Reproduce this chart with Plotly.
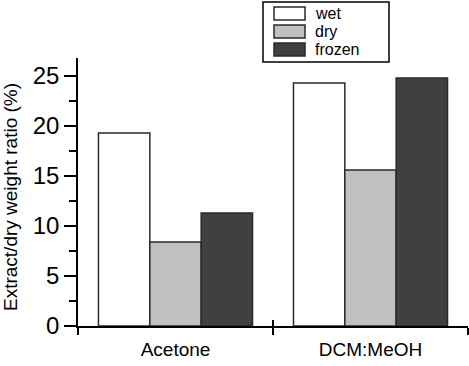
import plotly.graph_objects as go

categories = ["Acetone", "DCM:MeOH"]
series_names = ["wet", "dry", "frozen"]
wet = [19.3, 24.3]
dry = [8.4, 15.6]
frozen = [11.3, 24.8]
y_title = "Extract/dry weight ratio (%)"

colors = ["#ffffff", "#c0c0c0", "#404040"]
values = [wet, dry, frozen]

W, H = 469, 366
L, R, T, B = 78, 1, 58, 40
pw, ph = W - L - R, H - T - B

def px(x):
    return (x - L) / pw

def py(y):
    return (H - B - y) / ph

fig = go.Figure()
for name, vals, col in zip(series_names, values, colors):
    fig.add_trace(go.Bar(
        x=categories, y=vals, name=name,
        marker=dict(color=col, line=dict(color="#2a2a2a", width=1.5)),
        showlegend=False,
    ))

# helper trace for inside ticks on overlay axis
fig.add_trace(go.Scatter(x=categories, y=[0, 0], xaxis="x2", yaxis="y",
                         mode="markers", marker=dict(opacity=0),
                         showlegend=False, hoverinfo="skip"))

axis_font = "Liberation Sans, Arial, sans-serif"

fig.update_layout(
    width=W, height=H,
    margin=dict(l=L, r=R, t=T, b=B),
    paper_bgcolor="white", plot_bgcolor="white",
    bargap=0.21, bargroupgap=0,
    font=dict(family=axis_font, color="black"),
    xaxis=dict(
        type="category", range=[-0.5, 1.5], tickson="boundaries",
        ticks="outside", ticklen=7, tickwidth=1.5, tickcolor="black",
        showline=True, linecolor="black", linewidth=1.5,
        showgrid=False, zeroline=False, ticklabelstandoff=5,
        tickfont=dict(size=19, family=axis_font, color="black"),
    ),
    xaxis2=dict(
        type="category", range=[-0.5, 1.5], tickson="boundaries",
        overlaying="x", anchor="y", side="bottom",
        ticks="inside", ticklen=6, tickwidth=1.5, tickcolor="black",
        showticklabels=False, showline=False, showgrid=False, zeroline=False,
    ),
    yaxis=dict(
        range=[0, 26.8], tickvals=[0, 5, 10, 15, 20, 25],
        ticks="outside", ticklen=12, tickwidth=1.5, tickcolor="black",
        minor=dict(tickvals=[2.5, 7.5, 12.5, 17.5, 22.5], ticks="outside",
                   ticklen=7, tickwidth=1.5, tickcolor="black"),
        showline=True, linecolor="black", linewidth=1.5,
        showgrid=False, zeroline=False,
        tickfont=dict(size=24, family=axis_font, color="black"),
    ),
)

fig.add_annotation(
    text=y_title, textangle=-90, xref="paper", yref="paper",
    x=px(10), y=py(197), showarrow=False,
    font=dict(size=19, family=axis_font, color="black"),
    xanchor="center", yanchor="middle",
)

# legend box
fig.add_shape(type="rect", xref="paper", yref="paper",
              x0=px(263), x1=px(389), y0=py(62), y1=py(2),
              line=dict(color="black", width=1.5), fillcolor="white")
sw_tops = [7, 25, 43]
for name, col, top in zip(series_names, colors, sw_tops):
    fig.add_shape(type="rect", xref="paper", yref="paper",
                  x0=px(274), x1=px(305), y0=py(top + 13), y1=py(top),
                  line=dict(color="#2a2a2a", width=1.5), fillcolor=col)
    fig.add_annotation(text=name, xref="paper", yref="paper",
                       x=px(313), y=py(top + 6.5), showarrow=False,
                       xanchor="left", yanchor="middle",
                       font=dict(size=16, family=axis_font, color="black"))

fig.write_html("out.html")
